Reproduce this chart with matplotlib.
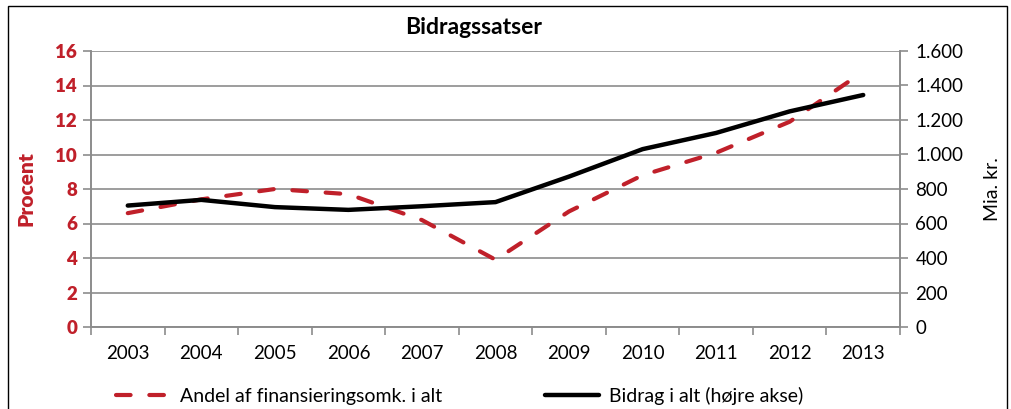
import matplotlib
matplotlib.use('Agg')
import matplotlib.pyplot as plt
from matplotlib.patches import Rectangle

plt.rcParams['font.family'] = ['Lato', 'DejaVu Sans']

# data
years = ['2003', '2004', '2005', '2006', '2007', '2008',
         '2009', '2010', '2011', '2012', '2013']
andel = [6.6, 7.4, 8.0, 7.7, 6.2, 3.9, 6.7, 8.8, 10.1, 11.9, 14.8]   # procent
bidrag = [704, 737, 695, 679, 700, 724, 872, 1031, 1125, 1250, 1345]  # mia. kr.
left_ticks = [0, 2, 4, 6, 8, 10, 12, 14, 16]
right_ticks = [0, 200, 400, 600, 800, 1000, 1200, 1400, 1600]

red = '#c0202a'
grid = '#8c8c8c'

fig = plt.figure(figsize=(10.12, 4.09), dpi=100)
ax = fig.add_axes([91/1012, 1 - 327/409, (900 - 91)/1012, (327 - 51)/409])
ax2 = ax.twinx()

x = list(range(len(years)))
l1, = ax.plot(x, andel, color=red, lw=3.0, dashes=(3.5, 4.5),
              dash_capstyle='round', label='Andel af finansieringsomk. i alt', zorder=3)
l2, = ax2.plot(x, bidrag, color='black', lw=3.2, solid_capstyle='round',
               label='Bidrag i alt (højre akse)', zorder=3)

ax.set_xlim(-0.5, len(years) - 0.5)
ax.set_ylim(0, 16)
ax2.set_ylim(0, 1600)

ax.set_yticks(left_ticks)
ax.set_yticklabels([str(v) for v in left_ticks], color=red, fontweight='heavy', fontsize=13.5)
ax2.set_yticks(right_ticks)
ax2.set_yticklabels([f'{v:,}'.replace(',', '.') for v in right_ticks], fontsize=13.5)

ax.set_xticks(x)
ax.set_xticklabels(years, fontsize=13.5)
ax.set_xticks([i - 0.5 for i in range(len(years) + 1)], minor=True)
ax.tick_params(axis='x', which='major', length=0, pad=13)
ax.tick_params(axis='x', which='minor', length=6, color=grid, width=1.2, direction='out')
ax.tick_params(axis='y', length=6, color=grid, width=1.2, pad=4)
ax2.tick_params(axis='y', length=6, color=grid, width=1.2, pad=5)

ax.grid(axis='y', color=grid, lw=1.2)
ax.set_axisbelow(True)
for a in (ax, ax2):
    a.spines['top'].set_visible(False)
    for s in ('left', 'right', 'bottom'):
        a.spines[s].set_color(grid)
        a.spines[s].set_linewidth(1.2)

ax.set_ylabel('Procent', color=red, fontweight='heavy', fontsize=15, labelpad=14)
ax2.set_ylabel('Mia. kr.', fontsize=14, labelpad=15)
fig.text(0.468, 1 - 28/409, 'Bidragssatser', fontweight='bold', fontsize=16.5,
         ha='center', va='center')

fig.legend(handles=[l1, l2], loc='center', bbox_to_anchor=(0.454, 0.032),
           ncol=2, frameon=False, fontsize=14, handlelength=2.8,
           columnspacing=5.3, handletextpad=0.5)

# thin frame around the chart
fig.patches.append(Rectangle((8/1012, -0.05), (1007 - 8)/1012, 1.05 - 6/409,
                             transform=fig.transFigure, fill=False,
                             edgecolor='black', lw=1.0))

fig.savefig('out.png', dpi=100)
